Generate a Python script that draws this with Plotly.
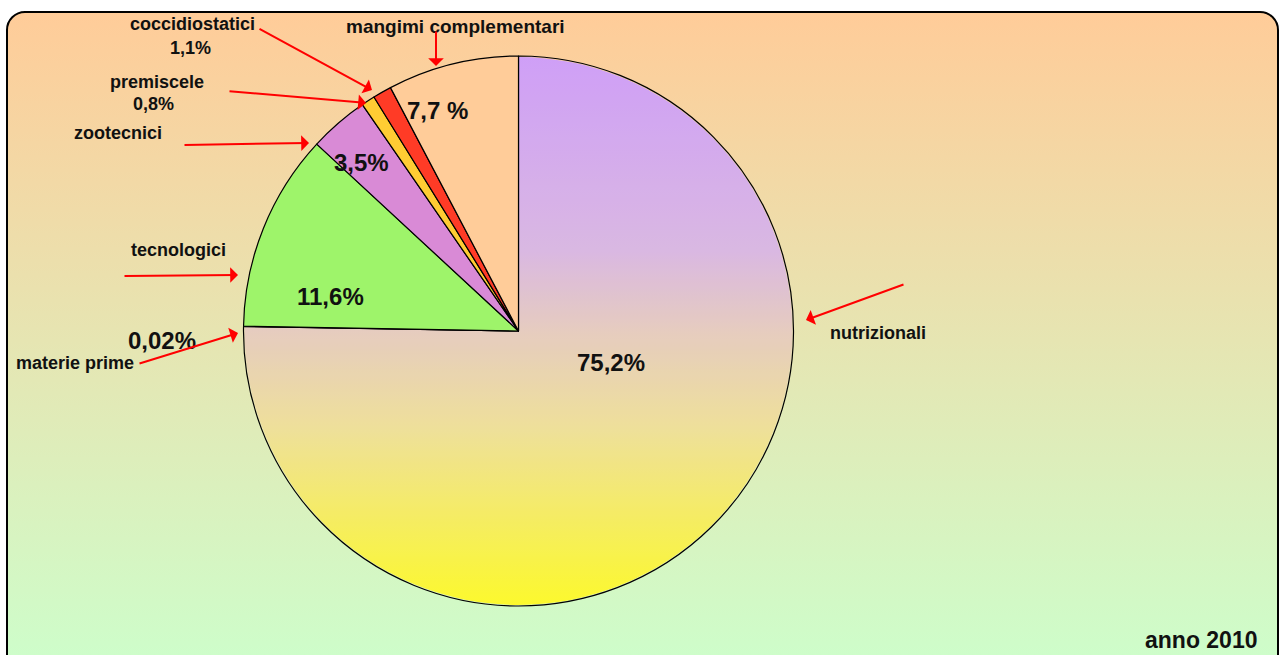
import base64
import plotly.graph_objects as go

# ---- data ----
labels = ["nutrizionali", "materie prime", "tecnologici", "zootecnici",
          "premiscele", "coccidiostatici", "mangimi complementari"]
values = [75.2, 0.02, 11.6, 3.5, 0.8, 1.1, 7.7]
pct_text = ["75,2%", "0,02%", "11,6%", "3,5%", "0,8%", "1,1%", "7,7 %"]
slice_colors = ["rgba(230,205,190,0.12)", "#E8D5B0", "#9EF46A", "#D98AD6",
                "#FFCC33", "#FF3B26", "#FFCC99"]
year_label = "anno 2010"

W, H = 1283, 655


def fx(x):
    return x / W


def fy(y):
    return 1 - y / H


def svg_uri(svg):
    return "data:image/svg+xml;base64," + base64.b64encode(svg.encode()).decode()


# pie geometry (pixels)
CX, CY, R = 518.5, 331, 275
dom_x = [fx(CX - R), fx(CX + R)]
dom_y = [fy(CY + R), fy(CY - R)]

fig = go.Figure()
fig.add_trace(go.Pie(
    labels=labels, values=values, sort=False, direction="clockwise",
    rotation=0, textinfo="none", hoverinfo="label+percent",
    marker=dict(colors=slice_colors, line=dict(color="black", width=1.2)),
    domain=dict(x=dom_x, y=dom_y), showlegend=False,
))

bg_svg = ('<svg xmlns="http://www.w3.org/2000/svg" width="1283" height="655" '
          'viewBox="0 0 1283 655" preserveAspectRatio="none"><defs>'
          '<linearGradient id="b" x1="0" y1="0" x2="0" y2="1">'
          '<stop offset="0" stop-color="#FFCC99"/><stop offset="1" stop-color="#CCFFCC"/>'
          '</linearGradient></defs>'
          '<rect x="0" y="0" width="1283" height="655" fill="#ffffff"/>'
          '<rect x="7" y="12" width="1271" height="670" rx="18" ry="18" '
          'fill="url(#b)" stroke="#000" stroke-width="2"/></svg>')

pie_svg = ('<svg xmlns="http://www.w3.org/2000/svg" width="100" height="100" '
           'viewBox="0 0 100 100"><defs>'
           '<linearGradient id="p" x1="0" y1="0" x2="0" y2="1">'
           '<stop offset="0" stop-color="#CC99FF"/>'
           '<stop offset="0.35" stop-color="#D8B5E8"/>'
           '<stop offset="0.5" stop-color="#E6CCC0"/>'
           '<stop offset="0.68" stop-color="#F0E395"/>'
           '<stop offset="1" stop-color="#FFFF1A"/>'
           '</linearGradient></defs>'
           '<circle cx="50" cy="50" r="49.8" fill="url(#p)"/></svg>')

fig.update_layout(images=[
    dict(source=svg_uri(bg_svg), xref="paper", yref="paper", x=0, y=1,
         sizex=1, sizey=1, xanchor="left", yanchor="top", sizing="stretch",
         layer="below"),
    dict(source=svg_uri(pie_svg), xref="paper", yref="paper",
         x=(dom_x[0] + dom_x[1]) / 2, y=(dom_y[0] + dom_y[1]) / 2,
         sizex=dom_x[1] - dom_x[0], sizey=dom_y[1] - dom_y[0],
         xanchor="center", yanchor="middle", sizing="stretch", layer="below"),
])

FONT = "Liberation Sans, Arial, sans-serif"
anns = []


def text(t, x, y, size):
    anns.append(dict(text="<b>" + t + "</b>", x=fx(x), y=fy(y), xref="paper",
                     yref="paper", showarrow=False, xanchor="center",
                     yanchor="middle", font=dict(family=FONT, size=size, color="#111")))


def arrow(x0, y0, x1, y1):
    anns.append(dict(text="", x=fx(x1), y=fy(y1), xref="paper", yref="paper",
                     ax=x0 - x1, ay=y0 - y1, axref="pixel", ayref="pixel",
                     showarrow=True, arrowhead=1, arrowsize=1.3, arrowwidth=2,
                     arrowcolor="#FF0000", standoff=0, startstandoff=0))


LS = 18
# labels
text(labels[6], 455, 27, 19)
text(labels[5], 192, 24, LS)
text(pct_text[5], 190, 48, LS)
text(labels[4], 157, 82, LS)
text(pct_text[4], 153, 104, LS)
text(labels[3], 118, 133, LS)
text(labels[2], 178, 250, LS)
text(pct_text[1], 162, 340, 24)
text(labels[1], 75, 363, LS)
text(labels[0], 878, 333, LS)
# in-slice percentages
text(pct_text[0], 611, 362, 24)
text(pct_text[2], 330, 296, 24)
text(pct_text[3], 361, 163, 24)
text(pct_text[6], 437, 110, 24)
text(year_label, 1201, 640, 23)

# arrows
arrow(436, 30, 436, 66)
arrow(258, 28, 372, 90)
arrow(228, 91, 366, 103)
arrow(183, 145, 309, 143)
arrow(123, 276, 238, 275)
arrow(138, 364, 238, 333)
arrow(905, 284, 806, 320)

fig.update_layout(
    width=W, height=H, margin=dict(l=0, r=0, t=0, b=0),
    paper_bgcolor="white", plot_bgcolor="rgba(0,0,0,0)",
    annotations=anns,
)

fig.write_html("out.html", config={"displayModeBar": False},
               post_script="document.body.style.margin='0';"
                           "document.body.style.overflow='hidden';")
